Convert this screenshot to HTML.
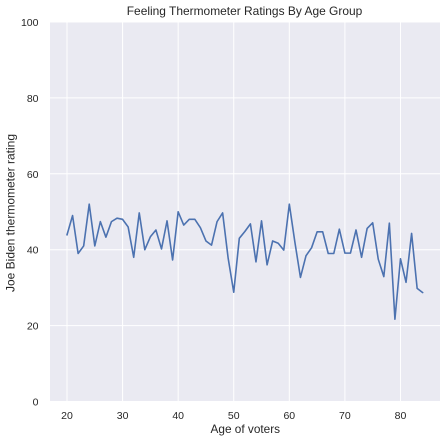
<!DOCTYPE html>
<html>
<head>
<meta charset="utf-8">
<style>
html,body{margin:0;padding:0;background:#fff;}
svg{display:block;}
text{font-family:"Liberation Sans",Arial,sans-serif;fill:#262626;}
</style>
</head>
<body>
<svg id="chart" xmlns="http://www.w3.org/2000/svg" width="446" height="442" viewBox="0 0 446 442">
  <rect x="50" y="22" width="390" height="379.5" fill="#eaeaf2"/>
  <g id="grid"></g>
  <path id="line" fill="none" stroke="#4c72b0" stroke-width="1.6" stroke-linejoin="round" stroke-linecap="round"/>
  <g id="labels"></g>
  <text x="244.5" y="15" text-anchor="middle" font-size="12" textLength="235.5" lengthAdjust="spacingAndGlyphs">Feeling Thermometer Ratings By Age Group</text>
  <text x="245.3" y="433" text-anchor="middle" font-size="12" textLength="69.5" lengthAdjust="spacingAndGlyphs">Age of voters</text>
  <text transform="translate(14.3,213) rotate(-90)" text-anchor="middle" font-size="12" textLength="158" lengthAdjust="spacingAndGlyphs">Joe Biden thermometer rating</text>
</svg>
<script>
const startAge = 20;
const ratings = [43.9,49.0,39.0,41.0,52.0,41.0,47.4,43.3,47.4,48.3,48.0,46.0,38.0,49.7,40.0,43.4,45.2,40.2,47.6,37.3,50.0,46.5,48.0,48.0,45.8,42.3,41.2,47.4,49.7,37.7,28.8,43.0,44.8,46.8,36.8,47.6,36.0,42.3,41.7,39.9,52.0,42.0,32.7,38.4,40.5,44.7,44.7,39.0,39.0,45.4,39.1,39.1,45.2,38.0,45.6,47.1,37.5,32.9,47.0,21.7,37.6,31.4,44.3,29.8,28.7];
const xTicks = [20,30,40,50,60,70,80];
const yTicks = [0,20,40,60,80,100];

const NS = 'http://www.w3.org/2000/svg';
function xScale(v){ return 67 + (v - 20) * 5.558; }
function yScale(v){ return 401.5 - v * 3.795; }

const grid = document.getElementById('grid');
const labels = document.getElementById('labels');

xTicks.forEach(function(t){
  const gl = document.createElementNS(NS,'line');
  
  
  gl.setAttribute('x1', xScale(t)); gl.setAttribute('x2', xScale(t));
  gl.setAttribute('y1', 22); gl.setAttribute('y2', 401.5);
  gl.setAttribute('stroke', '#fff'); gl.setAttribute('stroke-width', 1);
  grid.appendChild(gl);
  const tx = document.createElementNS(NS,'text');
  
  
  tx.setAttribute('x', xScale(t)); tx.setAttribute('y', 419);
  tx.setAttribute('text-anchor', 'middle'); tx.setAttribute('font-size', '10.5');
  tx.textContent = t;
  labels.appendChild(tx);
});

yTicks.forEach(function(t){
  const gl = document.createElementNS(NS,'line');
  
  
  gl.setAttribute('x1', 50); gl.setAttribute('x2', 440);
  gl.setAttribute('y1', yScale(t)); gl.setAttribute('y2', yScale(t));
  gl.setAttribute('stroke', '#fff'); gl.setAttribute('stroke-width', 1);
  grid.appendChild(gl);
  const tx = document.createElementNS(NS,'text');
  
  
  tx.setAttribute('x', 38.5); tx.setAttribute('y', yScale(t) + 4);
  tx.setAttribute('text-anchor', 'end'); tx.setAttribute('font-size', '10.5');
  tx.textContent = t;
  labels.appendChild(tx);
});

document.getElementById('line').setAttribute('d', ratings.map(function(v,i){
  return (i ? 'L' : 'M') + xScale(startAge + i).toFixed(2) + ' ' + yScale(v).toFixed(2);
}).join(' '));
</script>
</body>
</html>
